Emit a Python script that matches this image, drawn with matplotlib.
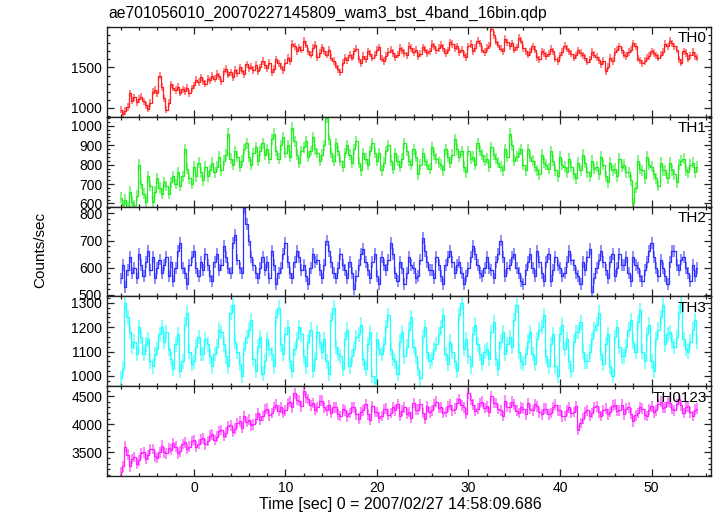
import numpy as np
import matplotlib
matplotlib.use("Agg")
import matplotlib.pyplot as plt
from matplotlib.ticker import MultipleLocator, FixedLocator


plt.rcParams["font.family"] = ["Liberation Sans", "DejaVu Sans"]

TITLE = "ae701056010_20070227145809_wam3_bst_4band_16bin.qdp"
XLABEL = "Time [sec] 0 = 2007/02/27 14:58:09.686"
YLABEL = "Counts/sec"

# time bins (sec), 0.25 s wide, first bin centre at -8 s
T_START = -8.0
T_BIN = 0.25

th0 = [
    980, 930, 960, 1010, 1180, 1090, 1130, 1070, 1110, 1140, 1080, 1030, 990, 1060, 1200, 1220, 1180, 1400, 1260, 1120,
    980, 1060, 1290, 1250, 1220, 1260, 1190, 1230, 1210, 1250, 1180, 1240, 1280, 1350, 1320, 1380, 1330, 1300, 1360, 1340,
    1400, 1360, 1420, 1390, 1330, 1450, 1480, 1410, 1440, 1380, 1470, 1430, 1500, 1460, 1420, 1540, 1490, 1510, 1470, 1530,
    1450, 1500, 1580, 1530, 1490, 1560, 1440, 1480, 1600, 1550, 1510, 1470, 1560, 1620, 1580, 1790, 1760, 1700, 1750, 1720,
    1830, 1780, 1700, 1660, 1740, 1780, 1630, 1680, 1750, 1700, 1660, 1720, 1620, 1580, 1520, 1480, 1440, 1560, 1620, 1590,
    1660, 1620, 1700, 1730, 1600, 1550, 1640, 1600, 1700, 1670, 1620, 1660, 1720, 1750, 1610, 1580, 1640, 1690, 1720, 1680,
    1630, 1660, 1740, 1710, 1680, 1650, 1770, 1740, 1690, 1720, 1640, 1670, 1750, 1720, 1680, 1700, 1790, 1760, 1710, 1740,
    1780, 1740, 1680, 1710, 1810, 1790, 1740, 1760, 1690, 1720, 1660, 1630, 1760, 1790, 1700, 1740, 1830, 1800, 1720, 1690,
    1740, 1770, 1980, 1900, 1820, 1780, 1730, 1700, 1850, 1810, 1760, 1800, 1720, 1750, 1870, 1830, 1740, 1700, 1660, 1690,
    1760, 1720, 1630, 1600, 1700, 1680, 1640, 1670, 1730, 1700, 1610, 1580, 1650, 1690, 1770, 1730, 1700, 1670, 1620, 1650,
    1710, 1680, 1650, 1620, 1570, 1600, 1690, 1660, 1630, 1590, 1540, 1580, 1450, 1510, 1620, 1580, 1690, 1720, 1760, 1710,
    1660, 1640, 1690, 1720, 1800, 1760, 1610, 1590, 1550, 1580, 1620, 1640, 1700, 1680, 1650, 1620, 1660, 1690, 1790, 1760,
    1830, 1800, 1760, 1720, 1600, 1560, 1700, 1680, 1610, 1650, 1690, 1640, 1620,
]

th1 = [
    630, 590, 620, 580, 660, 610, 590, 640, 800, 700, 650, 610, 740, 690, 610, 660, 730, 680, 650, 710,
    690, 650, 710, 740, 700, 760, 690, 740, 880, 780, 730, 700, 790, 740, 810, 760, 720, 790, 740, 770,
    810, 760, 790, 840, 770, 820, 850, 960, 830, 800, 870, 840, 790, 820, 880, 910, 840, 800, 860, 890,
    820, 870, 910, 850, 880, 830, 930, 960, 870, 830, 900, 940, 860, 900, 840, 990, 920, 850, 810, 870,
    890, 920, 840, 870, 940, 880, 860, 820, 850, 900, 1040, 930, 860, 820, 910, 870, 820, 790, 860, 900,
    850, 810, 880, 920, 810, 770, 860, 830, 800, 870, 910, 860, 820, 860, 770, 810, 870, 900, 820, 780,
    860, 820, 790, 830, 910, 870, 820, 800, 880, 840, 750, 800, 860, 820, 800, 780, 890, 850, 830, 810,
    800, 770, 880, 840, 810, 850, 930, 880, 840, 870, 790, 760, 870, 830, 840, 800, 910, 870, 850, 820,
    830, 790, 890, 850, 830, 810, 790, 770, 880, 840, 960, 900, 820, 840, 860, 880, 800, 770, 880, 840,
    820, 790, 770, 750, 850, 810, 800, 780, 870, 820, 770, 740, 840, 800, 790, 760, 830, 790, 750, 730,
    810, 770, 850, 810, 760, 740, 820, 780, 790, 750, 840, 800, 740, 710, 810, 770, 780, 740, 830, 790,
    800, 760, 760, 720, 600, 680, 820, 780, 770, 730, 840, 800, 790, 750, 730, 690, 810, 770, 770, 730,
    810, 770, 750, 710, 800, 820, 830, 770, 760, 800, 810, 760, 790,
]

th2 = [
    560, 610, 530, 590, 640, 580, 600, 560, 650, 610, 570, 620, 660, 590, 640, 560, 600, 630, 580, 610,
    640, 570, 620, 550, 600, 660, 690, 600, 580, 540, 610, 640, 660, 600, 570, 620, 590, 650, 610, 570,
    550, 620, 650, 590, 610, 680, 640, 600, 580, 690, 720, 630, 600, 580, 820, 760, 700, 640, 610, 580,
    560, 600, 640, 590, 620, 560, 660, 610, 540, 580, 600, 650, 690, 620, 580, 560, 620, 660, 640, 590,
    610, 570, 540, 600, 650, 620, 630, 590, 560, 610, 700, 660, 620, 580, 560, 600, 650, 610, 590, 560,
    620, 580, 520, 570, 610, 650, 670, 620, 590, 560, 620, 650, 570, 540, 640, 610, 590, 630, 690, 650,
    580, 550, 620, 600, 540, 580, 640, 610, 600, 560, 570, 630, 710, 660, 620, 590, 590, 560, 640, 610,
    570, 540, 610, 640, 660, 620, 580, 610, 620, 580, 540, 570, 600, 640, 680, 650, 610, 580, 570, 600,
    640, 600, 590, 560, 620, 650, 700, 640, 570, 600, 610, 640, 650, 600, 580, 550, 540, 590, 620, 650,
    600, 570, 660, 620, 580, 550, 620, 650, 550, 590, 640, 610, 600, 570, 580, 620, 660, 630, 610, 580,
    570, 540, 620, 590, 640, 670, 510, 560, 600, 630, 660, 620, 590, 560, 620, 650, 570, 600, 650, 610,
    610, 640, 580, 550, 640, 610, 600, 570, 550, 590, 620, 660, 690, 640, 600, 570, 630, 600, 570, 540,
    620, 660, 660, 610, 590, 630, 640, 600, 580, 550, 610, 570, 600,
]

th3 = [
    990, 1030, 1300, 1240, 1180, 1120, 1140, 1090, 1200, 1160, 1090, 1130, 1150, 1060, 1040, 1090, 1110, 1170, 1200, 1140,
    1180, 1110, 1070, 1030, 1130, 1170, 1020, 1060, 1210, 1260, 1100, 1050, 1060, 1120, 1160, 1090, 1090, 1150, 1130, 1080,
    1040, 1090, 1120, 1190, 1180, 1130, 1080, 1040, 1260, 1290, 1140, 1100, 1050, 1000, 1110, 1160, 1190, 1230, 1070, 1020,
    1120, 1160, 1010, 1060, 1150, 1110, 1090, 1040, 1240, 1280, 1130, 1090, 1170, 1200, 1060, 1020, 1110, 1150, 1200, 1170,
    1080, 1040, 1140, 1190, 1020, 1070, 1180, 1140, 1100, 1150, 1060, 1010, 1230, 1280, 1120, 1090, 1080, 1030, 1150, 1190,
    1040, 1080, 1110, 1160, 1170, 1210, 1070, 1030, 1130, 1180, 1000, 970, 1150, 1110, 1090, 1130, 1200, 1250, 1110, 1070,
    1060, 1010, 1140, 1180, 1080, 1120, 1190, 1240, 1120, 1080, 1030, 990, 1160, 1200, 1100, 1060, 1070, 1110, 1130, 1170,
    1200, 1250, 1090, 1050, 1140, 1100, 1060, 1020, 1250, 1300, 1110, 1150, 1080, 1040, 1170, 1210, 1130, 1090, 1050, 1100,
    1110, 1070, 1180, 1220, 1070, 1030, 1140, 1180, 1090, 1130, 1160, 1120, 1230, 1290, 1100, 1060, 1050, 1090, 1140, 1180,
    1090, 1050, 1150, 1190, 1200, 1250, 1080, 1040, 1130, 1170, 1040, 1000, 1170, 1210, 1110, 1150, 1060, 1020, 1140, 1180,
    1180, 1220, 1100, 1060, 1060, 1100, 1150, 1190, 1210, 1260, 1090, 1050, 1130, 1170, 1040, 1000, 1160, 1200, 1120, 1080,
    1080, 1120, 1190, 1230, 1140, 1100, 1220, 1270, 1100, 1060, 1170, 1210, 1060, 1020, 1150, 1190, 1240, 1290, 1130, 1170,
    1180, 1140, 1120, 1160, 1260, 1300, 1150, 1110, 1100, 1140, 1190, 1230, 1140,
]

th0123 = [
    3150, 3250, 3600, 3460, 3250, 3380, 3420, 3300, 3360, 3480, 3500, 3380, 3450, 3560, 3560, 3430, 3400, 3500, 3620, 3500,
    3480, 3580, 3550, 3660, 3600, 3480, 3520, 3650, 3680, 3560, 3600, 3700, 3720, 3600, 3650, 3740, 3750, 3640, 3700, 3800,
    3820, 3720, 3780, 3880, 3900, 3790, 3850, 3970, 3980, 3860, 3920, 4020, 4050, 3940, 4150, 4040, 4080, 3980, 4000, 4100,
    4200, 4080, 4150, 4260, 4280, 4160, 4200, 4310, 4350, 4240, 4300, 4200, 4250, 4370, 4400, 4300, 4550, 4440, 4420, 4320,
    4600, 4480, 4450, 4340, 4380, 4260, 4300, 4420, 4420, 4300, 4250, 4340, 4200, 4300, 4300, 4180, 4150, 4270, 4250, 4140,
    4200, 4310, 4300, 4180, 4100, 4220, 4250, 4360, 4180, 4080, 4320, 4220, 4220, 4120, 4150, 4270, 4280, 4170, 4200, 4300,
    4250, 4360, 4150, 4240, 4300, 4190, 4220, 4120, 4380, 4260, 4260, 4360, 4200, 4100, 4320, 4210, 4250, 4350, 4400, 4290,
    4300, 4200, 4220, 4320, 4350, 4250, 4280, 4380, 4450, 4340, 4300, 4190, 4550, 4430, 4350, 4240, 4280, 4380, 4400, 4290,
    4320, 4220, 4500, 4380, 4380, 4270, 4250, 4150, 4420, 4310, 4300, 4400, 4350, 4240, 4200, 4300, 4280, 4180, 4380, 4270,
    4250, 4360, 4320, 4210, 4180, 4280, 4280, 4180, 4200, 4300, 4350, 4250, 4250, 4140, 4150, 4250, 4300, 4200, 4220, 4320,
    3900, 4020, 4100, 4210, 4250, 4150, 4200, 4310, 4320, 4210, 4150, 4250, 4280, 4180, 4220, 4330, 4350, 4240, 4250, 4350,
    4180, 4280, 4300, 4190, 4050, 4160, 4200, 4310, 4280, 4170, 4150, 4260, 4320, 4210, 4250, 4360, 4400, 4290, 4300, 4400,
    4380, 4270, 4250, 4360, 4450, 4340, 4200, 4310, 4320, 4210, 4150, 4260, 4280,
]

# typical 1-sigma error per band (counts/sec)
band_err = [45, 28, 22, 30, 95]

band_names = ["TH0", "TH1", "TH2", "TH3", "TH0123"]
band_colors = ["#ff2020", "#22ee22", "#3030ff", "#22ffff", "#ff22ff"]
band_ylim = [(890, 2000), (584, 1046), (494, 825), (958, 1326), (3079, 4678)]
band_major = [[1000, 1500], [600, 700, 800, 900, 1000], [500, 600, 700, 800],
              [1000, 1100, 1200, 1300], [3500, 4000, 4500]]
band_minor = [100, 20, 20, 20, 100]


def style_axis(ax, major, minor, ylim):
    ax.set_xlim(-9.5, 56.5)
    ax.set_ylim(*ylim)
    ax.xaxis.set_major_locator(MultipleLocator(10))
    ax.xaxis.set_minor_locator(MultipleLocator(2))
    ax.yaxis.set_major_locator(FixedLocator(major))
    ax.yaxis.set_minor_locator(MultipleLocator(minor))
    ax.tick_params(which="both", direction="in", top=True, right=True,
                   labelsize=10, width=0.9, color="#222222")
    ax.tick_params(which="major", length=5)
    ax.tick_params(which="minor", length=2.5)
    for sp in ax.spines.values():
        sp.set_linewidth(1.0)
        sp.set_color("#222222")


def main():
    series = [th0, th1, th2, th3, th0123]

    fig = plt.figure(figsize=(7.17, 5.16), dpi=100)
    gs = fig.add_gridspec(5, 1, left=107 / 717, right=711 / 717,
                          top=1 - 27 / 516, bottom=1 - 476 / 516, hspace=0)

    axes = []
    for i, vals in enumerate(series):
        ax = fig.add_subplot(gs[i, 0])
        vals = np.array(vals, dtype=float)
        t = T_START + T_BIN * np.arange(len(vals))
        col = band_colors[i]

        ax.errorbar(t, vals, yerr=band_err[i], fmt="none", ecolor=col,
                    alpha=0.55, elinewidth=1.4, capsize=0)
        ax.step(t, vals, where="mid", color=col, lw=0.9)

        style_axis(ax, band_major[i], band_minor[i], band_ylim[i])
        ax.text(0.993, 0.95, band_names[i], transform=ax.transAxes,
                ha="right", va="top", fontsize=11)
        if i < 4:
            ax.tick_params(labelbottom=False)
        axes.append(ax)

    axes[-1].set_xlabel(XLABEL, fontsize=11.5, labelpad=1)
    axes[-1].xaxis.set_label_coords(0.485, -0.23)
    fig.text(40 / 717, 1 - 250 / 516, YLABEL, rotation=90,
             ha="center", va="center", fontsize=11)
    fig.text(108 / 717, 1 - 13 / 516, TITLE, ha="left", va="center",
             fontsize=11.3)

    fig.savefig("out.png", dpi=100)
    plt.close(fig)


if __name__ == "__main__":
    main()
